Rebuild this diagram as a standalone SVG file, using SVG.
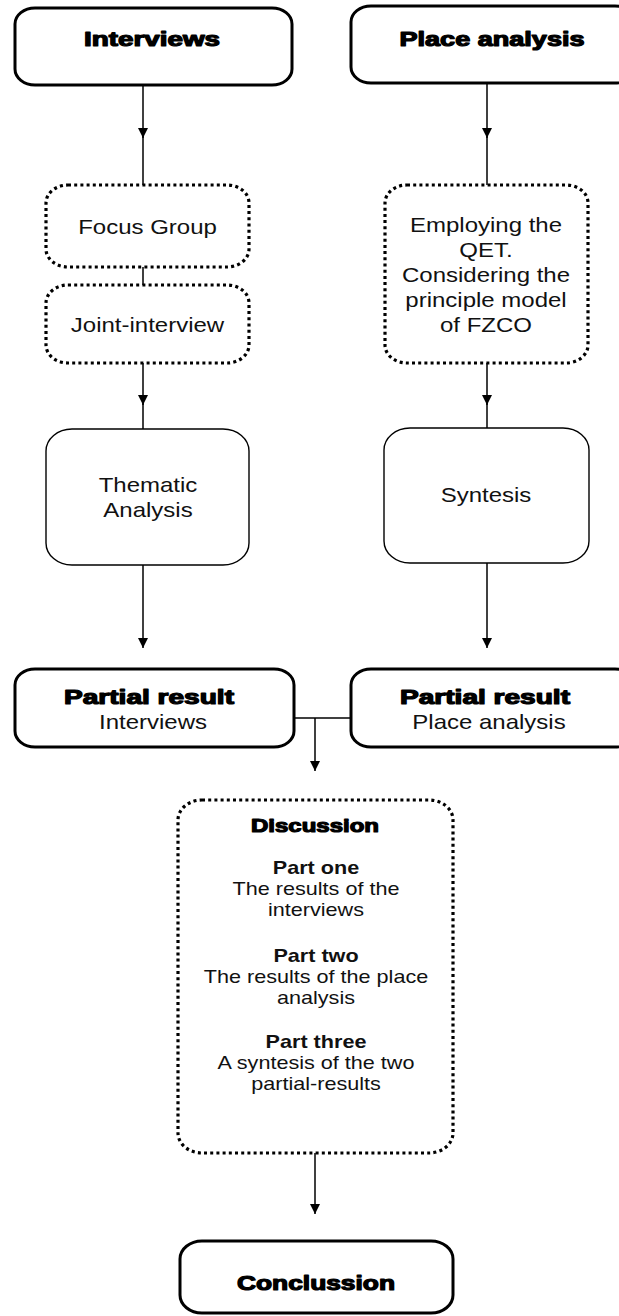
<svg xmlns="http://www.w3.org/2000/svg" width="619" height="1316" viewBox="0 0 619 1316">
<defs>
<marker id="ah" markerUnits="userSpaceOnUse" markerWidth="12" markerHeight="12" refX="10" refY="5" orient="auto">
<path d="M0,0 L10,5 L0,10 Z" fill="#000"/>
</marker>
<style>
.thick{fill:#fff;stroke:#000;stroke-width:3}
.thin{fill:#fff;stroke:#000;stroke-width:1.4}
.dot{fill:#fff;stroke:#000;stroke-width:3.2;stroke-dasharray:3 3.2}
.heavy{font-family:"Liberation Sans",Arial,sans-serif;font-weight:bold;font-size:20px;fill:#000;stroke:#000;stroke-width:1.2;stroke-linejoin:round;text-anchor:middle}
.n{font-family:"Liberation Sans",Arial,sans-serif;font-size:20px;fill:#111;text-anchor:middle}
.s{font-family:"Liberation Sans",Arial,sans-serif;font-size:18px;fill:#111;text-anchor:middle}
.sb{font-family:"Liberation Sans",Arial,sans-serif;font-size:18px;font-weight:bold;fill:#111;text-anchor:middle}
.ln{fill:none;stroke:#000;stroke-width:1.5}
</style>
</defs>
<rect width="619" height="1316" fill="#fff"/>

<g id="connectors">
<line class="ln" x1="143" y1="85" x2="143" y2="138" marker-end="url(#ah)"/>
<line class="ln" x1="143" y1="136" x2="143" y2="185"/>
<line class="ln" x1="487" y1="83" x2="487" y2="138" marker-end="url(#ah)"/>
<line class="ln" x1="487" y1="136" x2="487" y2="185"/>
<line class="ln" x1="143" y1="267" x2="143" y2="285"/>
<line class="ln" x1="143" y1="363" x2="143" y2="405" marker-end="url(#ah)"/>
<line class="ln" x1="143" y1="403" x2="143" y2="429"/>
<line class="ln" x1="487" y1="363" x2="487" y2="405" marker-end="url(#ah)"/>
<line class="ln" x1="487" y1="403" x2="487" y2="428"/>
<line class="ln" x1="143" y1="565" x2="143" y2="648" marker-end="url(#ah)"/>
<line class="ln" x1="487" y1="563" x2="487" y2="648" marker-end="url(#ah)"/>
<line class="ln" x1="294" y1="718" x2="351" y2="718"/>
<line class="ln" x1="315" y1="718" x2="315" y2="771" marker-end="url(#ah)"/>
<line class="ln" x1="315" y1="1153" x2="315" y2="1214" marker-end="url(#ah)"/>
</g>

<g id="interviews">
<rect class="thick" x="15" y="8" width="277" height="77" rx="20" ry="16"/>
<text class="heavy" x="152" y="46" textLength="136" lengthAdjust="spacingAndGlyphs">Interviews</text>
</g>

<g id="place-analysis">
<rect class="thick" x="351" y="6" width="284" height="77" rx="20" ry="16"/>
<text class="heavy" x="492" y="46" textLength="185" lengthAdjust="spacingAndGlyphs">Place analysis</text>
</g>

<g id="focus-group">
<rect class="dot" x="46" y="185" width="203" height="82" rx="22" ry="18"/>
<g transform="translate(147.5 0) scale(1.2 1)"><text class="n" x="0" y="234">Focus Group</text></g>
</g>

<g id="joint-interview">
<rect class="dot" x="46" y="285" width="203" height="78" rx="22" ry="18"/>
<g transform="translate(147.5 0) scale(1.2 1)"><text class="n" x="0" y="332">Joint-interview</text></g>
</g>

<g id="qet">
<rect class="dot" x="385" y="185" width="203" height="178" rx="22" ry="18"/>
<g transform="translate(486 0) scale(1.2 1)">
<text class="n" x="0" y="232">Employing the</text>
<text class="n" x="0" y="257">QET.</text>
<text class="n" x="0" y="282">Considering the</text>
<text class="n" x="0" y="307">principle model</text>
<text class="n" x="0" y="332">of FZCO</text>
</g>
</g>

<g id="thematic-analysis">
<rect class="thin" x="46" y="429" width="203" height="136" rx="26" ry="22"/>
<g transform="translate(148 0) scale(1.2 1)">
<text class="n" x="0" y="492">Thematic</text>
<text class="n" x="0" y="517">Analysis</text>
</g>
</g>

<g id="syntesis">
<rect class="thin" x="384" y="428" width="205" height="135" rx="26" ry="22"/>
<g transform="translate(486 0) scale(1.2 1)"><text class="n" x="0" y="502">Syntesis</text></g>
</g>

<g id="partial-interviews">
<rect class="thick" x="15" y="669" width="279" height="78" rx="20" ry="16"/>
<text class="heavy" x="149" y="704" textLength="170" lengthAdjust="spacingAndGlyphs">Partial result</text>
<g transform="translate(153 0) scale(1.2 1)"><text class="n" x="0" y="729">Interviews</text></g>
</g>

<g id="partial-place">
<rect class="thick" x="351" y="669" width="284" height="78" rx="20" ry="16"/>
<text class="heavy" x="485" y="704" textLength="170" lengthAdjust="spacingAndGlyphs">Partial result</text>
<g transform="translate(489 0) scale(1.2 1)"><text class="n" x="0" y="729">Place analysis</text></g>
</g>

<g id="discussion">
<rect class="dot" x="178" y="800" width="275" height="353" rx="24" ry="20"/>
<text class="heavy" x="315" y="832" textLength="128" lengthAdjust="spacingAndGlyphs" style="font-size:19px">Discussion</text>
<g transform="translate(316 0) scale(1.2 1)">
<text class="sb" x="0" y="874">Part one</text>
<text class="s" x="0" y="895">The results of the</text>
<text class="s" x="0" y="916">interviews</text>
<text class="sb" x="0" y="962">Part two</text>
<text class="s" x="0" y="983">The results of the place</text>
<text class="s" x="0" y="1004">analysis</text>
<text class="sb" x="0" y="1048">Part three</text>
<text class="s" x="0" y="1069">A syntesis of the two</text>
<text class="s" x="0" y="1090">partial-results</text>
</g>
</g>

<g id="conclussion">
<rect class="thick" x="180" y="1241" width="273" height="72" rx="22" ry="18"/>
<text class="heavy" x="316" y="1290" textLength="158" lengthAdjust="spacingAndGlyphs">Conclussion</text>
</g>
</svg>
